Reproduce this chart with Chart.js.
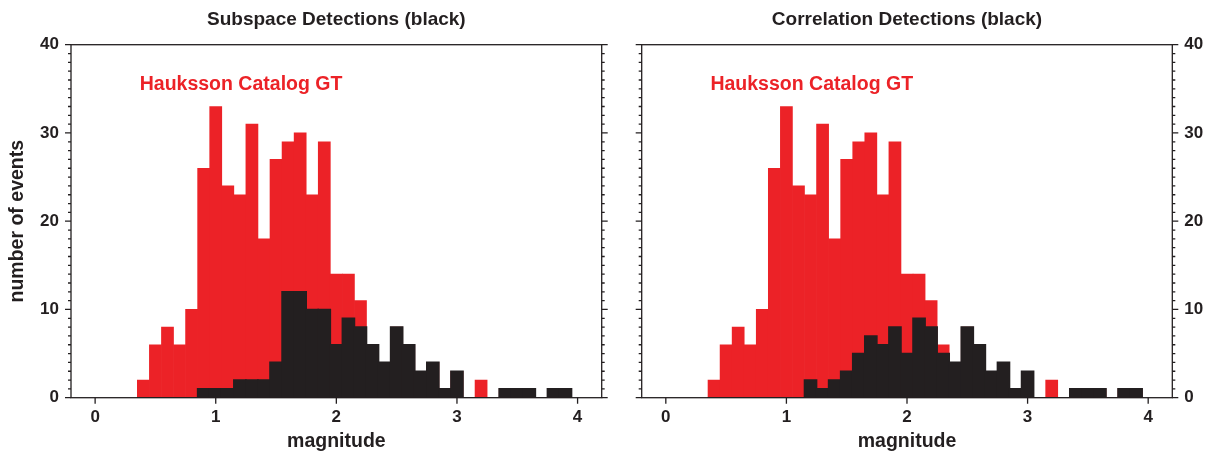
<!DOCTYPE html>
<html>
<head>
<meta charset="utf-8">
<title>Detecciones vs catálogo</title>
<script src="https://cdn.jsdelivr.net/npm/chart.js@4.4.1/dist/chart.umd.min.js"></script>
<style>
    html, body { margin: 0; padding: 0; background: #ffffff; }
    #panelA { position: absolute; left: 0; top: 0; width: 621px; height: 453px; }
    #panelB { position: absolute; left: 621px; top: 0; width: 589px; height: 453px; }
</style>
</head>
<body>
<div id="panelA"><canvas id="graficaA"></canvas></div>
<div id="panelB"><canvas id="graficaB"></canvas></div>

<script>
// Centros de los intervalos de magnitud (ancho 0.1)
const magnitudes = [0.4, 0.5, 0.6, 0.7, 0.8, 0.9, 1.0, 1.1, 1.2, 1.3, 1.4, 1.5,
                    1.6, 1.7, 1.8, 1.9, 2.0, 2.1, 2.2, 2.3, 2.4, 2.5, 2.6, 2.7,
                    2.8, 2.9, 3.0, 3.1, 3.2, 3.3, 3.4, 3.5, 3.6, 3.7, 3.8, 3.9];

// Catálogo Hauksson (rojo)
const catalogoGT = [2, 6, 8, 6, 10, 26, 33, 24, 23, 31, 18, 27,
                    29, 30, 23, 29, 14, 14, 11, 6, 4, 8, 6, 3,
                    4, 1, 3, 0, 2, 0, 1, 1, 1, 0, 1, 1];

// Detecciones por subespacio (negro, panel izquierdo)
const subespacio = [0, 0, 0, 0, 0, 1, 1, 1, 2, 2, 2, 4,
                    12, 12, 10, 10, 6, 9, 8, 6, 4, 8, 6, 3,
                    4, 1, 3, 0, 0, 0, 1, 1, 1, 0, 1, 1];

// Detecciones por correlación (negro, panel derecho)
const correlacion = [0, 0, 0, 0, 0, 0, 0, 0, 2, 1, 2, 3,
                     5, 7, 6, 8, 5, 9, 8, 5, 4, 8, 6, 3,
                     4, 1, 3, 0, 0, 0, 1, 1, 1, 0, 1, 1];

const ticksX = [0, 1, 2, 3, 4];
const ticksY = [0, 10, 20, 30, 40];

const etiquetaCatalogo = { texto: "Hauksson Catalog GT", x: 0.37, y: 35.5 };

const ROJO = "#ec2227";
const NEGRO = "#231f20";
const FUENTE = "'Liberation Sans', Arial, Helvetica, sans-serif";

function puntos(valores) {
    return magnitudes.map((m, i) => ({ x: m, y: valores[i] }));
}

// Marco tipo GMT: caja completa, marcas hacia afuera y texto del catálogo
const marco = {
    id: "marco",
    afterDatasetsDraw(chart) {
        const { ctx, chartArea: a } = chart;
        const x = chart.scales.x;
        const y = chart.scales.y;

        ctx.save();
        ctx.strokeStyle = NEGRO;
        ctx.lineWidth = 1.3;
        ctx.strokeRect(a.left, a.top, a.right - a.left, a.bottom - a.top);

        ctx.beginPath();
        for (let v = y.min; v <= y.max; v++) {
            const py = y.getPixelForValue(v);
            const largo = v % 10 === 0 ? 6 : 3;
            ctx.moveTo(a.left - largo, py);
            ctx.lineTo(a.left, py);
            ctx.moveTo(a.right, py);
            ctx.lineTo(a.right + largo, py);
        }
        ticksX.forEach(v => {
            const px = x.getPixelForValue(v);
            ctx.moveTo(px, a.bottom);
            ctx.lineTo(px, a.bottom + 6);
        });
        ctx.stroke();

        ctx.fillStyle = ROJO;
        ctx.font = "bold 19.5px " + FUENTE;
        ctx.textAlign = "left";
        ctx.textBaseline = "middle";
        ctx.fillText(etiquetaCatalogo.texto,
            x.getPixelForValue(etiquetaCatalogo.x),
            y.getPixelForValue(etiquetaCatalogo.y));
        ctx.restore();
    }
};

function crearGrafica(id, titulo, detecciones, lado) {
    const izquierda = lado === "left";

    return new Chart(document.getElementById(id), {
        type: "bar",
        data: {
            datasets: [
                // las negras un poco infladas para tapar el borde rojo de debajo
                { label: "detecciones", data: puntos(detecciones), backgroundColor: NEGRO, order: 0, inflateAmount: 0.8 },
                { label: "catálogo", data: puntos(catalogoGT), backgroundColor: ROJO, order: 1, inflateAmount: 0.33 }
            ]
        },
        options: {
            responsive: true,
            maintainAspectRatio: false,
            animation: false,
            layout: {
                padding: izquierda ? { left: 0, right: 19.3, top: 0, bottom: 0 }
                                   : { left: 20.7, right: 0, top: 0, bottom: 0 }
            },
            datasets: {
                bar: { grouped: false, barPercentage: 1, categoryPercentage: 1, borderWidth: 0 }
            },
            plugins: {
                legend: { display: false },
                tooltip: { enabled: false },
                title: {
                    display: true,
                    text: titulo,
                    fullSize: false,
                    color: NEGRO,
                    font: { family: FUENTE, size: 19, weight: "bold" },
                    padding: { top: 8.1, bottom: 13.8 }
                }
            },
            scales: {
                x: {
                    type: "linear",
                    offset: false,
                    min: -0.2,
                    max: 4.2,
                    afterBuildTicks: s => { s.ticks = ticksX.map(v => ({ value: v })); },
                    afterFit: s => { s.height = 55.3; },
                    grid: { display: false, drawTicks: false, offset: false },
                    border: { display: false },
                    ticks: {
                        color: NEGRO,
                        padding: 9,
                        maxRotation: 0,
                        font: { family: FUENTE, size: 17, weight: "bold" }
                    },
                    title: {
                        display: true,
                        text: "magnitude",
                        color: NEGRO,
                        padding: { top: 1.3, bottom: 0 },
                        font: { family: FUENTE, size: 19.5, weight: "bold" }
                    }
                },
                y: {
                    position: lado,
                    min: 0,
                    max: 40,
                    afterBuildTicks: s => { s.ticks = ticksY.map(v => ({ value: v })); },
                    afterFit: s => { s.width = izquierda ? 71 : 37.7; },
                    grid: { display: false, drawTicks: false },
                    border: { display: false },
                    ticks: {
                        color: NEGRO,
                        padding: 12,
                        font: { family: FUENTE, size: 17, weight: "bold" }
                    },
                    title: {
                        display: izquierda,
                        text: "number of events",
                        color: NEGRO,
                        padding: { top: 6.3, bottom: 0 },
                        font: { family: FUENTE, size: 19.5, weight: "bold" }
                    }
                }
            }
        },
        plugins: [marco]
    });
}

crearGrafica("graficaA", "Subspace Detections (black)", subespacio, "left");
crearGrafica("graficaB", "Correlation Detections (black)", correlacion, "right");
</script>
</body>
</html>
